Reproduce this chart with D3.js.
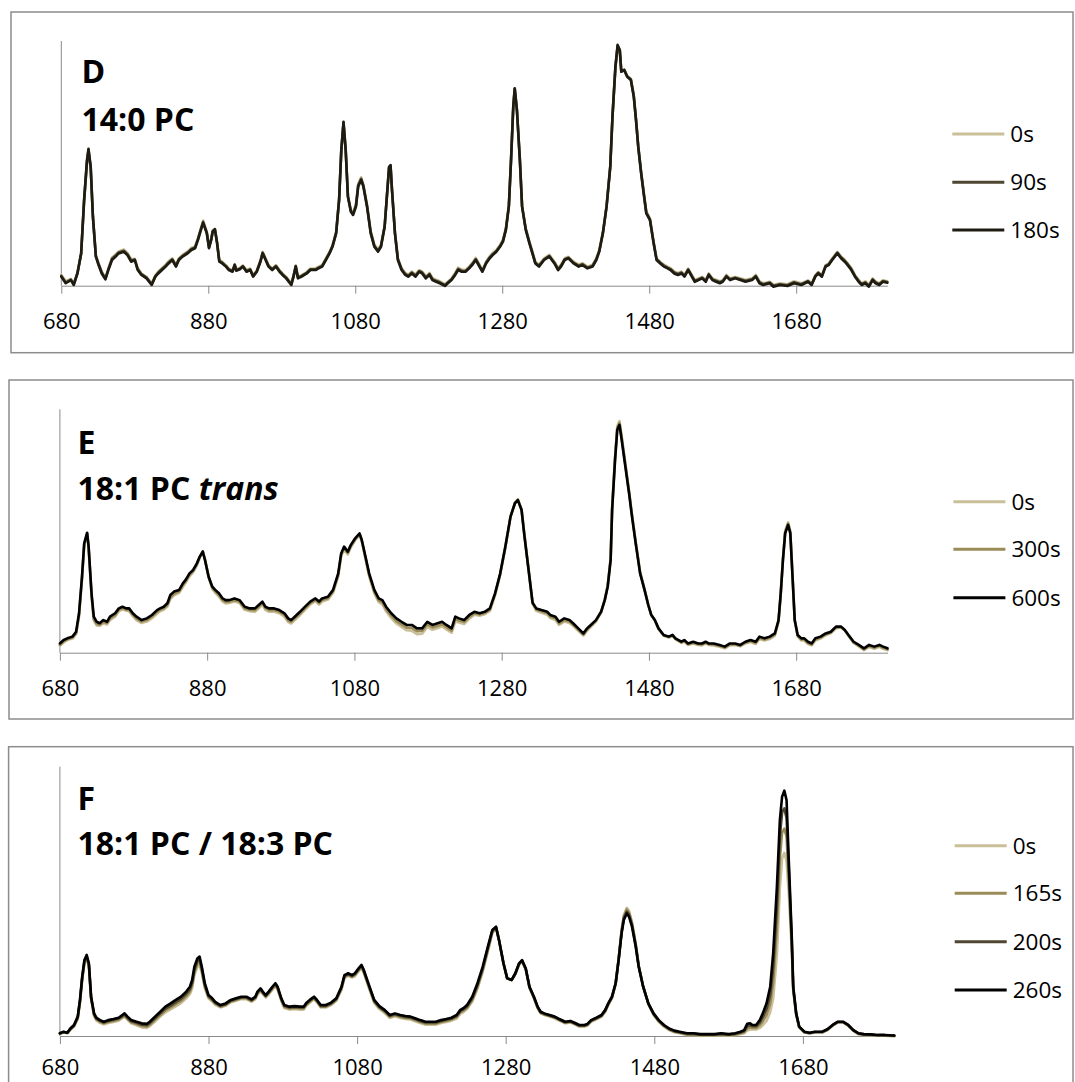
<!DOCTYPE html>
<html><head><meta charset="utf-8">
<script src="https://cdn.jsdelivr.net/npm/d3@7"></script>
<style>
body{margin:0;background:#fff}
svg{display:block}
text{font-family:'Open Sans','Noto Sans',sans-serif}
</style>
</head><body>
<svg id="chart" width="1075" height="1082"></svg>
<script>
// ---------- shared axis ticks ----------
const tickValues = [680, 880, 1080, 1280, 1480, 1680];
const xMaxWavenumber = 1804;

// ---------- Panel D : 14:0 PC ----------
const dLabels = ["0s", "90s", "180s"];
const dWavenumber = [
680,686,693,697,702,707,711,715,717,720,
723,727,730,735,740,744,749,754,758,765,
770,775,780,784,789,796,803,808,812,817,
822,826,831,836,840,845,852,857,862,866,
870,873,878,881,884,886,889,892,895,899,
904,908,913,916,918,923,927,932,937,941,
946,951,954,958,962,967,972,977,981,986,
993,996,999,1002,1007,1014,1019,1026,1030,1035,
1040,1045,1049,1054,1058,1061,1064,1067,1070,1074,
1077,1081,1084,1088,1091,1096,1101,1106,1111,1115,
1120,1123,1126,1128,1130,1134,1138,1143,1148,1152,
1157,1162,1167,1171,1176,1181,1185,1190,1195,1202,
1206,1211,1216,1220,1225,1230,1235,1239,1244,1249,
1253,1258,1263,1267,1272,1277,1281,1285,1289,1292,
1295,1297,1300,1304,1307,1312,1317,1321,1325,1330,
1337,1344,1351,1356,1360,1365,1370,1377,1384,1389,
1396,1403,1408,1412,1417,1422,1427,1430,1434,1437,
1440,1442,1446,1450,1455,1459,1462,1465,1469,1473,
1476,1481,1486,1490,1495,1500,1505,1509,1514,1519,
1524,1528,1533,1538,1542,1547,1552,1557,1561,1566,
1571,1576,1580,1585,1590,1597,1604,1611,1620,1625,
1630,1635,1644,1649,1658,1668,1677,1687,1696,1701,
1706,1710,1715,1720,1724,1729,1736,1741,1746,1750,
1755,1760,1765,1769,1774,1779,1784,1788,1793,1798,
1804];
const d0s = [
4.5,1.8,2.8,1.0,5.5,13.0,34.0,50.5,55.0,48.0,
28.5,12.5,9.8,5.8,3.2,7.0,11.5,12.8,14.0,14.8,
13.4,10.8,11.0,7.2,5.0,3.6,1.0,4.2,5.8,7.2,
8.6,10.0,11.2,8.6,11.2,12.6,14.0,15.4,16.0,19.5,
23.5,26.6,22.0,16.0,19.2,22.6,23.2,17.8,10.5,9.8,
8.4,7.0,6.3,8.8,6.8,7.2,8.3,6.4,7.0,4.4,
6.2,10.4,13.8,11.2,8.4,7.0,8.4,6.4,5.0,3.6,
1.0,4.2,8.2,3.8,4.3,5.6,7.0,7.1,7.8,8.5,
11.2,13.8,16.5,22.0,35.2,55.0,66.4,55.0,36.8,31.0,
29.8,33.4,41.6,44.3,41.4,33.2,22.4,16.8,14.8,16.6,
24.5,36.2,48.0,48.8,39.0,21.8,11.2,7.2,5.2,4.5,
5.8,4.6,6.4,5.8,3.8,5.2,3.2,2.4,1.8,0.6,
1.6,3.0,5.2,7.4,6.6,6.4,7.8,9.2,11.4,8.6,
6.4,9.8,12.0,13.4,14.6,16.6,18.8,23.6,33.0,51.8,
73.0,80.2,71.4,51.0,32.6,23.4,18.0,14.0,9.8,8.6,
11.2,12.6,9.8,7.2,8.6,11.2,11.8,9.8,8.6,9.2,
7.8,8.6,11.2,14.6,22.0,32.8,49.0,69.2,89.0,97.6,
95.8,87.6,88.4,85.8,84.6,77.8,68.4,57.4,46.6,37.2,
30.4,27.4,18.0,11.2,9.8,8.6,7.8,7.2,5.8,5.2,
5.8,4.4,7.0,4.4,2.4,3.0,3.6,2.4,5.0,3.0,
2.4,1.8,2.2,4.4,3.0,3.6,3.0,2.4,3.0,4.4,
1.8,1.0,1.6,0.4,1.0,0.6,1.8,1.0,2.2,1.0,
4.2,5.6,4.4,8.4,9.0,11.2,13.8,12.0,10.6,9.2,
7.2,4.4,2.4,1.0,1.8,0.4,3.0,1.8,1.0,2.2,
1.8];
const d90s = [
4.0,1.3,2.5,0.6,5.2,13.1,34.5,51.0,55.5,48.3,
28.3,12.2,9.4,5.4,2.9,6.7,11.0,12.3,13.6,14.3,
12.9,10.3,10.7,6.8,4.7,3.3,0.6,3.9,5.4,6.8,
8.2,9.5,10.8,8.2,10.8,12.2,13.6,15.0,15.6,19.1,
23.1,26.1,21.7,15.6,18.9,22.3,23.1,17.5,10.1,9.4,
8.1,6.7,6.0,8.6,6.4,6.9,8.0,6.0,6.7,4.0,
5.9,10.1,13.5,10.8,8.1,6.7,8.1,6.0,4.7,3.3,
0.6,3.9,8.0,3.4,4.0,5.3,6.7,6.7,7.4,8.1,
10.8,13.5,16.2,21.7,35.1,55.2,66.7,55.2,36.6,30.6,
29.3,32.8,41.0,43.7,41.0,32.7,21.9,16.3,14.3,16.2,
24.3,36.3,48.3,49.0,39.0,21.6,10.8,6.8,4.8,4.1,
5.4,4.1,6.0,5.4,3.4,4.8,2.7,2.0,1.4,0.2,
1.3,2.6,4.8,6.9,6.1,6.0,7.4,8.8,10.9,8.2,
6.0,9.4,11.6,12.9,14.2,16.2,18.4,23.2,32.6,51.6,
73.1,80.4,71.6,51.2,32.4,23.1,17.6,13.6,9.4,8.2,
10.8,12.2,9.4,6.8,8.2,10.8,11.5,9.4,8.2,8.8,
7.4,8.2,10.8,14.2,21.7,32.5,48.8,69.1,89.2,98.0,
96.0,87.5,88.2,85.6,84.3,77.5,68.0,57.1,46.2,36.8,
30.0,27.1,17.6,10.8,9.4,8.2,7.4,6.8,5.4,4.8,
5.4,4.0,6.7,4.0,2.0,2.6,3.3,2.0,4.7,2.6,
2.0,1.4,1.9,4.0,2.6,3.3,2.6,2.0,2.6,4.0,
1.4,0.6,1.3,0.0,0.6,0.2,1.4,0.6,1.9,0.6,
4.0,5.3,4.0,8.1,8.7,10.8,13.5,11.6,10.2,8.8,
6.8,4.0,2.0,0.6,1.4,0.0,2.6,1.4,0.6,1.9,
1.5];
const d180s = [
3.7,1.0,2.3,0.3,5.0,13.2,35.0,51.4,55.9,48.6,
28.2,11.9,9.1,5.0,2.6,6.4,10.5,11.9,13.2,13.9,
12.5,9.8,10.5,6.4,4.4,3.0,0.3,3.7,5.0,6.4,
7.8,9.1,10.5,7.8,10.5,11.9,13.2,14.6,15.3,18.7,
22.8,25.7,21.4,15.3,18.7,22.1,23.0,17.3,9.8,9.1,
7.8,6.4,5.7,8.4,6.1,6.7,7.8,5.7,6.4,3.7,
5.7,9.8,13.2,10.5,7.8,6.4,7.8,5.7,4.4,3.0,
0.3,3.7,7.8,3.0,3.7,5.0,6.4,6.4,7.1,7.8,
10.5,13.2,15.9,21.4,35.0,55.4,67.0,55.4,36.4,30.2,
28.9,32.3,40.5,43.2,40.5,32.3,21.4,15.9,13.9,15.9,
24.1,36.4,48.6,49.3,39.1,21.4,10.5,6.4,4.4,3.7,
5.0,3.7,5.7,5.0,3.0,4.4,2.3,1.6,1.0,-0.1,
1.0,2.3,4.4,6.4,5.7,5.7,7.1,8.4,10.5,7.8,
5.7,9.1,11.2,12.5,13.9,15.9,18.0,22.8,32.3,51.4,
73.2,80.7,71.8,51.4,32.3,22.8,17.3,13.2,9.1,7.8,
10.5,11.9,9.1,6.4,7.8,10.5,11.2,9.1,7.8,8.4,
7.1,7.8,10.5,13.9,21.4,32.3,48.6,69.1,89.5,98.4,
96.3,87.5,88.1,85.4,84.1,77.2,67.7,56.8,45.9,36.4,
29.6,26.8,17.3,10.5,9.1,7.8,7.1,6.4,5.0,4.4,
5.0,3.7,6.4,3.7,1.6,2.3,3.0,1.6,4.4,2.3,
1.6,1.0,1.6,3.7,2.3,3.0,2.3,1.6,2.3,3.7,
1.0,0.3,1.0,-0.4,0.3,-0.1,1.0,0.3,1.6,0.3,
3.7,5.0,3.7,7.8,8.4,10.5,13.2,11.2,9.8,8.4,
6.4,3.7,1.6,0.3,1.0,-0.4,2.3,1.0,0.3,1.6,
1.2];

// ---------- Panel E : 18:1 PC trans ----------
const eLabels = ["0s", "300s", "600s"];
const eWavenumber = [
680,685,690,697,702,706,710,713,717,719,
723,726,730,734,739,744,748,755,760,765,
770,774,779,784,791,798,805,812,816,821,
826,830,835,842,847,851,856,861,866,870,
874,877,882,887,891,896,901,905,910,917,
924,931,938,945,950,955,959,964,971,978,
985,990,994,999,1006,1013,1020,1027,1032,1036,
1044,1051,1058,1062,1066,1071,1075,1081,1087,1090,
1095,1100,1107,1113,1118,1123,1130,1137,1144,1151,
1158,1165,1172,1179,1186,1193,1199,1205,1212,1217,
1222,1229,1236,1243,1250,1257,1264,1271,1278,1285,
1292,1298,1302,1307,1311,1316,1322,1327,1334,1342,
1346,1353,1358,1365,1372,1377,1384,1391,1396,1401,
1408,1415,1420,1424,1428,1430,1434,1437,1440,1443,
1448,1453,1457,1462,1468,1474,1479,1483,1488,1493,
1500,1507,1512,1516,1524,1528,1533,1540,1547,1552,
1557,1561,1568,1576,1583,1590,1597,1604,1611,1618,
1625,1630,1637,1644,1651,1656,1659,1662,1665,1669,
1672,1675,1678,1682,1687,1691,1696,1701,1706,1713,
1720,1727,1734,1741,1746,1751,1758,1765,1772,1779,
1786,1793,1798,1804];
const e0s = [
2.8,4.2,5.2,5.8,7.6,15.0,30.0,44.0,48.6,43.2,
23.0,13.2,11.2,11.0,12.0,11.6,13.4,14.8,17.0,17.8,
17.2,17.0,15.0,13.4,12.2,12.8,14.2,16.0,17.0,17.6,
19.0,22.0,23.6,24.6,27.0,28.8,31.4,33.0,35.8,39.0,
41.6,38.6,31.0,26.2,24.6,23.0,21.0,20.2,20.4,21.0,
20.4,17.6,17.0,16.8,18.2,19.8,17.6,16.8,16.8,16.2,
14.8,12.6,12.0,13.4,15.4,17.6,19.8,21.2,19.8,21.0,
21.8,24.6,31.4,39.6,42.4,40.4,43.2,46.2,48.4,45.8,
38.6,31.4,24.4,20.8,19.8,17.0,14.2,12.0,10.6,9.2,
9.0,7.6,7.8,10.6,9.4,10.0,10.8,9.6,8.2,12.8,
12.4,11.8,14.0,15.6,15.2,15.8,17.2,23.6,32.0,43.2,
55.8,61.6,63.0,59.0,48.2,35.6,20.2,17.2,16.4,15.6,
14.2,13.4,11.4,12.8,12.2,11.0,9.0,7.0,9.0,10.6,
12.8,16.6,21.8,27.8,39.0,59.8,80.6,93.0,95.2,89.0,
77.8,66.6,56.8,45.8,33.2,26.0,19.8,15.6,13.2,9.8,
7.0,6.2,6.8,5.6,4.0,4.6,3.2,3.8,3.2,3.0,
3.8,3.2,3.0,2.4,1.8,3.0,3.2,2.6,3.8,4.4,
3.6,5.6,5.0,5.6,7.0,12.6,24.0,38.6,50.0,53.6,
50.0,31.8,13.0,6.6,5.0,5.0,3.6,3.0,5.0,5.8,
7.2,8.0,10.0,10.4,9.2,7.0,4.0,2.6,1.0,2.4,
1.6,2.4,1.6,1.0];
const e300s = [
3.2,4.6,5.5,6.2,8.0,15.6,30.6,44.4,49.0,43.4,
23.6,13.8,11.8,11.5,12.6,12.2,14.0,15.4,17.6,18.3,
17.7,17.6,15.6,14.0,12.8,13.4,14.8,16.8,17.6,18.2,
19.6,22.8,24.2,25.2,27.8,29.4,32.0,33.6,36.2,39.3,
41.6,38.4,31.1,26.6,25.2,23.7,21.6,20.9,21.0,21.6,
21.0,18.2,17.6,17.5,18.9,20.4,18.3,17.5,17.5,16.8,
15.5,13.3,12.7,14.1,16.1,18.3,20.4,21.7,20.4,21.6,
22.4,25.2,32.0,40.2,43.0,41.0,43.7,46.6,48.7,46.0,
39.0,32.0,25.1,21.5,20.7,17.9,15.2,13.0,11.6,10.3,
10.2,8.8,8.9,11.6,10.4,11.0,11.7,10.5,9.1,13.8,
13.2,12.6,14.7,16.2,15.7,16.3,17.7,24.0,32.3,43.4,
55.9,61.5,62.9,58.8,48.0,35.5,20.3,17.7,17.0,16.2,
14.8,14.1,12.0,13.4,12.8,11.6,9.5,7.5,9.5,11.0,
13.1,16.7,21.7,27.4,38.5,59.2,79.9,92.3,94.4,88.2,
77.1,66.0,56.3,45.3,32.9,25.9,19.7,15.6,13.3,9.9,
7.1,6.4,7.0,5.7,4.2,4.9,3.5,4.1,3.5,3.4,
4.1,3.5,3.4,2.8,2.1,3.4,3.5,2.9,4.1,4.8,
4.0,6.1,5.4,6.1,7.4,13.0,24.2,38.3,49.5,53.0,
49.5,31.5,13.2,7.0,5.4,5.4,4.0,3.4,5.4,6.2,
7.5,8.3,10.3,10.5,9.2,7.1,4.2,2.9,1.4,2.8,
2.0,2.8,2.0,1.4];
const e600s = [
3.8,5.2,5.9,6.6,8.6,16.2,31.2,44.9,49.3,43.6,
24.4,14.8,12.7,12.1,13.4,12.7,14.8,16.2,18.2,18.9,
18.2,18.2,16.2,14.8,13.4,14.1,15.5,17.5,18.2,18.9,
20.3,23.7,25.1,25.8,28.5,30.0,32.6,34.0,36.7,39.5,
41.5,38.1,31.2,27.1,25.8,24.4,22.3,21.6,21.6,22.3,
21.6,18.9,18.2,18.2,19.6,21.0,18.9,18.2,18.2,17.5,
16.2,14.1,13.4,14.8,16.8,18.9,21.0,22.3,21.0,22.3,
23.0,25.8,32.6,40.8,43.6,41.5,44.2,47.0,49.0,46.3,
39.5,32.6,25.8,22.3,21.6,18.9,16.2,14.1,12.7,11.4,
11.4,10.0,10.0,12.7,11.4,12.1,12.7,11.4,10.0,14.8,
14.1,13.4,15.5,16.8,16.2,16.8,18.2,24.4,32.6,43.6,
55.9,61.4,62.7,58.6,47.7,35.3,20.5,18.2,17.5,16.8,
15.5,14.8,12.7,14.1,13.4,12.1,10.0,7.9,10.0,11.4,
13.4,16.8,21.6,27.1,38.1,58.6,79.2,91.5,93.6,87.4,
76.4,65.5,55.9,44.9,32.6,25.8,19.7,15.6,13.4,10.0,
7.3,6.6,7.3,5.9,4.5,5.2,3.8,4.5,3.8,3.8,
4.5,3.8,3.8,3.2,2.5,3.8,3.8,3.2,4.5,5.2,
4.5,6.6,5.9,6.6,7.9,13.4,24.4,38.1,49.0,52.5,
49.0,31.2,13.4,7.3,5.9,5.9,4.5,3.8,5.9,6.6,
7.9,8.6,10.7,10.7,9.3,7.3,4.5,3.2,1.8,3.2,
2.5,3.2,2.5,1.8];

// ---------- Panel F : 18:1 PC / 18:3 PC ----------
const fLabels = ["0s", "165s", "200s", "260s"];
const fWavenumber = [
680,685,690,694,699,704,707,710,713,716,
719,722,726,729,734,739,745,752,759,764,
767,771,776,783,790,797,801,808,815,822,
829,836,843,850,855,858,861,865,868,871,
875,880,885,889,896,903,910,917,924,931,
938,943,946,950,953,957,961,966,970,973,
978,982,989,996,1003,1008,1012,1017,1022,1026,
1031,1038,1045,1052,1059,1063,1068,1073,1077,1082,
1086,1089,1096,1103,1110,1117,1124,1131,1138,1145,
1152,1158,1165,1172,1179,1186,1193,1200,1207,1214,
1219,1223,1228,1235,1242,1249,1256,1262,1267,1271,
1277,1282,1288,1293,1298,1302,1307,1312,1318,1323,
1327,1332,1339,1346,1353,1360,1367,1372,1379,1386,
1390,1395,1402,1409,1414,1418,1423,1428,1432,1436,
1439,1443,1446,1450,1455,1459,1465,1472,1479,1486,
1493,1500,1507,1514,1524,1533,1542,1552,1561,1570,
1580,1589,1596,1601,1605,1609,1612,1617,1622,1626,
1631,1636,1640,1645,1649,1652,1655,1658,1661,1665,
1667,1671,1675,1682,1689,1696,1706,1713,1720,1727,
1734,1741,1748,1755,1762,1771,1781,1790,1803];
const f0s = [
0.8,1.3,1.0,2.2,3.5,6.3,12.2,20.8,27.0,28.8,
25.8,13.6,7.4,5.8,4.9,4.3,4.8,5.2,5.7,6.6,
7.2,6.0,4.7,4.0,3.2,3.0,3.7,5.4,7.2,8.8,
9.9,11.0,12.2,14.0,15.6,17.8,22.6,25.6,26.4,23.4,
17.8,14.0,12.8,11.6,10.6,11.2,12.5,13.1,13.7,13.7,
12.7,13.7,15.4,16.6,15.6,14.3,15.4,17.2,18.5,17.2,
13.1,10.4,9.8,10.0,9.8,9.8,11.3,12.5,13.7,12.5,
10.6,10.6,11.5,13.1,17.2,21.5,22.4,21.7,22.2,24.0,
25.3,23.4,17.8,12.3,10.0,8.6,6.7,7.3,6.7,6.3,
6.1,5.5,4.8,4.2,4.2,4.2,4.8,5.2,5.7,6.5,
8.3,8.9,10.0,12.8,17.5,23.8,31.4,38.2,40.0,35.6,
27.0,21.4,20.8,23.0,26.4,27.6,24.6,17.8,14.0,10.3,
8.4,7.8,7.2,6.6,5.6,4.7,5.0,4.4,3.5,3.5,
3.9,5.3,6.2,7.2,9.0,11.5,14.0,19.3,28.8,39.4,
44.9,47.6,46.4,42.3,34.4,26.3,18.5,11.8,7.8,5.3,
3.5,2.2,1.4,1.0,0.4,0.4,0.1,0.1,0.1,0.4,
0.1,0.4,0.7,1.0,2.0,2.4,2.4,2.4,3.0,4.0,
5.6,8.8,14.0,30.0,55.0,66.0,68.0,65.0,53.0,32.0,
16.6,7.8,3.2,1.3,0.9,1.3,1.3,2.2,3.8,5.0,
5.0,3.8,1.9,0.7,0.4,0.3,0.1,0.1,-0.1];
const f165s = [
0.9,1.4,1.1,2.4,3.7,6.6,12.6,21.2,27.4,29.2,
26.2,14.0,7.8,6.2,5.3,4.7,5.2,5.6,6.1,7.0,
7.6,6.4,5.1,4.4,3.7,3.5,4.2,6.0,7.8,9.5,
10.6,11.8,13.0,14.8,16.5,18.8,23.6,26.8,27.6,24.2,
18.4,14.4,13.2,12.0,10.9,11.5,12.8,13.4,14.0,14.0,
13.0,14.0,15.8,17.0,15.9,14.6,15.8,17.6,18.9,17.6,
13.4,10.8,10.2,10.4,10.2,10.2,11.7,12.9,14.0,12.8,
10.9,10.9,11.8,13.4,17.6,21.9,22.7,22.0,22.6,24.4,
25.7,23.8,18.2,12.7,10.4,9.0,7.1,7.7,7.1,6.7,
6.5,5.9,5.2,4.6,4.6,4.6,5.2,5.6,6.1,7.0,
8.8,9.4,10.5,13.4,18.2,24.4,32.0,38.6,40.2,35.6,
27.0,21.4,20.8,23.1,26.6,27.8,24.8,18.0,14.2,10.5,
8.6,8.0,7.4,6.8,5.8,4.9,5.2,4.6,3.7,3.7,
4.1,5.5,6.4,7.4,9.2,11.7,14.2,19.4,28.6,39.0,
44.4,47.0,45.8,41.8,34.0,26.1,18.4,11.9,8.0,5.5,
3.7,2.4,1.6,1.2,0.6,0.6,0.3,0.3,0.3,0.6,
0.3,0.6,1.0,1.4,2.8,3.2,3.0,3.0,4.0,5.4,
7.8,12.0,20.0,40.0,66.0,75.5,77.0,74.0,58.0,34.0,
17.2,8.0,3.3,1.4,1.0,1.4,1.4,2.3,3.9,5.1,
5.1,3.9,2.0,0.8,0.5,0.4,0.2,0.2,0.0];
const f200s = [
1.0,1.5,1.2,2.6,3.9,6.9,13.0,21.6,27.8,29.6,
26.6,14.3,8.1,6.5,5.6,5.0,5.6,6.0,6.5,7.4,
8.0,6.8,5.5,4.9,4.2,4.0,4.8,6.6,8.4,10.2,
11.3,12.6,13.8,15.6,17.4,19.8,24.6,27.8,28.6,25.0,
19.0,14.8,13.6,12.4,11.2,11.8,13.1,13.7,14.3,14.3,
13.3,14.3,16.2,17.4,16.2,14.9,16.2,18.0,19.3,18.0,
13.7,11.2,10.6,10.8,10.6,10.6,12.1,13.3,14.3,13.1,
11.2,11.2,12.1,13.7,18.0,22.3,23.0,22.3,23.0,24.8,
26.1,24.2,18.6,13.1,10.8,9.4,7.5,8.1,7.5,7.1,
6.9,6.3,5.6,5.0,5.0,5.0,5.6,6.0,6.5,7.5,
9.3,9.9,11.0,14.0,18.9,25.0,32.6,39.0,40.4,35.6,
27.0,21.4,20.8,23.2,26.8,28.0,25.0,18.2,14.4,10.7,
8.8,8.2,7.6,7.0,6.0,5.1,5.4,4.8,3.9,3.9,
4.3,5.7,6.6,7.6,9.5,11.9,14.4,19.5,28.4,38.6,
43.8,46.2,45.0,41.2,33.6,25.9,18.3,12.0,8.2,5.7,
3.9,2.6,1.8,1.4,0.8,0.8,0.5,0.5,0.5,0.8,
0.5,0.8,1.3,1.8,3.6,4.0,3.6,3.6,5.0,7.0,
10.0,15.2,25.5,48.0,74.0,83.0,84.5,81.0,62.0,35.5,
17.8,8.2,3.4,1.5,1.1,1.5,1.5,2.4,4.0,5.2,
5.2,4.0,2.1,0.9,0.6,0.5,0.3,0.3,0.1];
const f260s = [
1.0,1.6,1.2,2.8,4.1,7.2,13.4,22.0,28.2,30.1,
27.0,14.6,8.4,6.8,5.9,5.3,5.9,6.3,6.8,7.8,
8.4,7.2,5.9,5.3,4.7,4.5,5.3,7.2,9.0,10.9,
12.1,13.4,14.6,16.5,18.3,20.8,25.7,28.8,29.5,25.7,
19.6,15.2,14.0,12.7,11.5,12.1,13.4,14.0,14.6,14.6,
13.6,14.6,16.5,17.7,16.5,15.2,16.5,18.3,19.6,18.3,
14.0,11.5,10.9,11.1,10.9,10.9,12.4,13.6,14.6,13.4,
11.5,11.5,12.4,14.0,18.3,22.6,23.3,22.6,23.3,25.1,
26.4,24.5,18.9,13.4,11.1,9.7,7.8,8.4,7.8,7.4,
7.2,6.6,5.9,5.3,5.3,5.3,5.9,6.3,6.8,7.8,
9.7,10.3,11.5,14.6,19.6,25.7,33.2,39.4,40.6,35.6,
27.0,21.4,20.8,23.3,27.0,28.2,25.1,18.3,14.6,10.9,
9.0,8.4,7.8,7.2,6.2,5.3,5.6,5.0,4.1,4.1,
4.5,5.9,6.8,7.8,9.7,12.1,14.6,19.6,28.2,38.1,
43.1,45.5,44.3,40.6,33.2,25.7,18.3,12.1,8.4,5.9,
4.1,2.8,2.0,1.6,1.0,1.0,0.7,0.7,0.7,1.0,
0.7,1.0,1.6,2.2,4.5,4.7,4.1,4.1,5.9,8.4,
12.1,18.3,30.7,55.4,80.2,88.9,91.1,87.6,65.3,36.9,
18.3,8.4,3.5,1.6,1.2,1.6,1.6,2.5,4.1,5.3,
5.3,4.1,2.2,1.0,0.7,0.6,0.4,0.4,0.2];

// ---------- layout / style (not data) ----------
const colTan = "#c9bf98", colOlive = "#9a8b58", colDark = "#4e4631", colBlackish = "#1e1c12", colBlack = "#000000";
const panels = [
  { title: "D", sub: [{t: "14:0 PC"}], box: [11, 12, 1062, 340.7],
    x680: 61.3, x1680: 796.2, base: 285.7, top: 41, tx: 81.5, t1y: 83.3, t2y: 130.7, lblOff: 35.5,
    legX: 952.3, legY: [134, 182.3, 230], wn: dWavenumber, labels: dLabels,
    series: [d0s, d90s, d180s], colors: [colTan, colDark, colBlackish] },
  { title: "E", sub: [{t: "18:1 PC "}, {t: "trans", it: true}], box: [9, 380, 1064, 339],
    x680: 59.9, x1680: 796.2, base: 652.7, top: 409.3, tx: 77.5, t1y: 454, t2y: 500, lblOff: 35.5,
    legX: 953.4, legY: [501.7, 549.3, 597.7], wn: eWavenumber, labels: eLabels,
    series: [e0s, e300s, e600s], colors: [colTan, colOlive, colBlack] },
  { title: "F", sub: [{t: "18:1 PC / 18:3 PC"}], box: [8.6, 746.7, 1064.4, 400],
    x680: 59.9, x1680: 802.9, base: 1036, top: 766.7, tx: 77.5, t1y: 810, t2y: 855, lblOff: 31,
    legX: 954.7, legY: [845.7, 893.3, 941.7, 990], wn: fWavenumber, labels: fLabels,
    series: [f0s, f165s, f200s, f260s], colors: [colTan, colOlive, colDark, colBlack] }
];

const svg = d3.select("#chart");
panels.forEach(p => {
  p.series.forEach((s, i) => {
    if (s.length !== p.wn.length) throw new Error(`Panel ${p.title} series ${i} length ${s.length} vs ${p.wn.length}`);
  });
  const g = svg.append("g");
  g.append("rect").attr("x", p.box[0]).attr("y", p.box[1]).attr("width", p.box[2]).attr("height", p.box[3])
    .attr("fill", "none").attr("stroke", "#8c8c8c").attr("stroke-width", 1.5);

  const xEnd = p.x680 + (p.x1680 - p.x680) * (xMaxWavenumber - 680) / 1000;
  const x = d3.scaleLinear().domain([680, xMaxWavenumber]).range([p.x680, xEnd]);
  const y = d3.scaleLinear().domain([0, 100]).range([p.base, p.top]);

  // vertical axis line (no ticks)
  g.append("line").attr("x1", x(680)).attr("x2", x(680)).attr("y1", y(100)).attr("y2", y(0))
    .attr("stroke", "#8a8a8a").attr("stroke-width", 1);

  const axis = d3.axisBottom(x).tickValues(tickValues).tickSize(8).tickSizeOuter(0).tickFormat(d3.format("d"));
  const ag = g.append("g").attr("transform", `translate(0,${y(0)})`).call(axis);
  ag.select(".domain").attr("stroke", "#8a8a8a").attr("stroke-width", 1);
  ag.selectAll(".tick line").attr("stroke", "#8a8a8a");
  ag.selectAll(".tick text").attr("y", p.lblOff).attr("dy", "0.35em")
    .attr("font-size", 22).attr("font-family", "'Open Sans', sans-serif").attr("fill", "#000");

  const line = d3.line().x((d, i) => x(p.wn[i])).y(d => y(d)).curve(d3.curveLinear);
  p.series.forEach((s, i) => {
    g.append("path").datum(s).attr("d", line).attr("fill", "none")
      .attr("stroke", p.colors[i]).attr("stroke-width", 2.6)
      .attr("stroke-linejoin", "round").attr("stroke-linecap", "round");
  });

  g.append("text").attr("x", p.tx).attr("y", p.t1y).attr("font-size", 32).attr("font-weight", "bold").text(p.title);
  const t2 = g.append("text").attr("x", p.tx).attr("y", p.t2y).attr("font-size", 32).attr("font-weight", "bold");
  p.sub.forEach(s => t2.append("tspan").attr("font-style", s.it ? "italic" : "normal").text(s.t));

  p.labels.forEach((lab, i) => {
    const ly = p.legY[i];
    g.append("line").attr("x1", p.legX).attr("x2", p.legX + 52).attr("y1", ly).attr("y2", ly)
      .attr("stroke", p.colors[i]).attr("stroke-width", 3);
    g.append("text").attr("x", p.legX + 58).attr("y", ly).attr("dy", "0.35em")
      .attr("font-size", 22.5).attr("fill", "#000").text(lab);
  });
});
</script>
</body></html>
